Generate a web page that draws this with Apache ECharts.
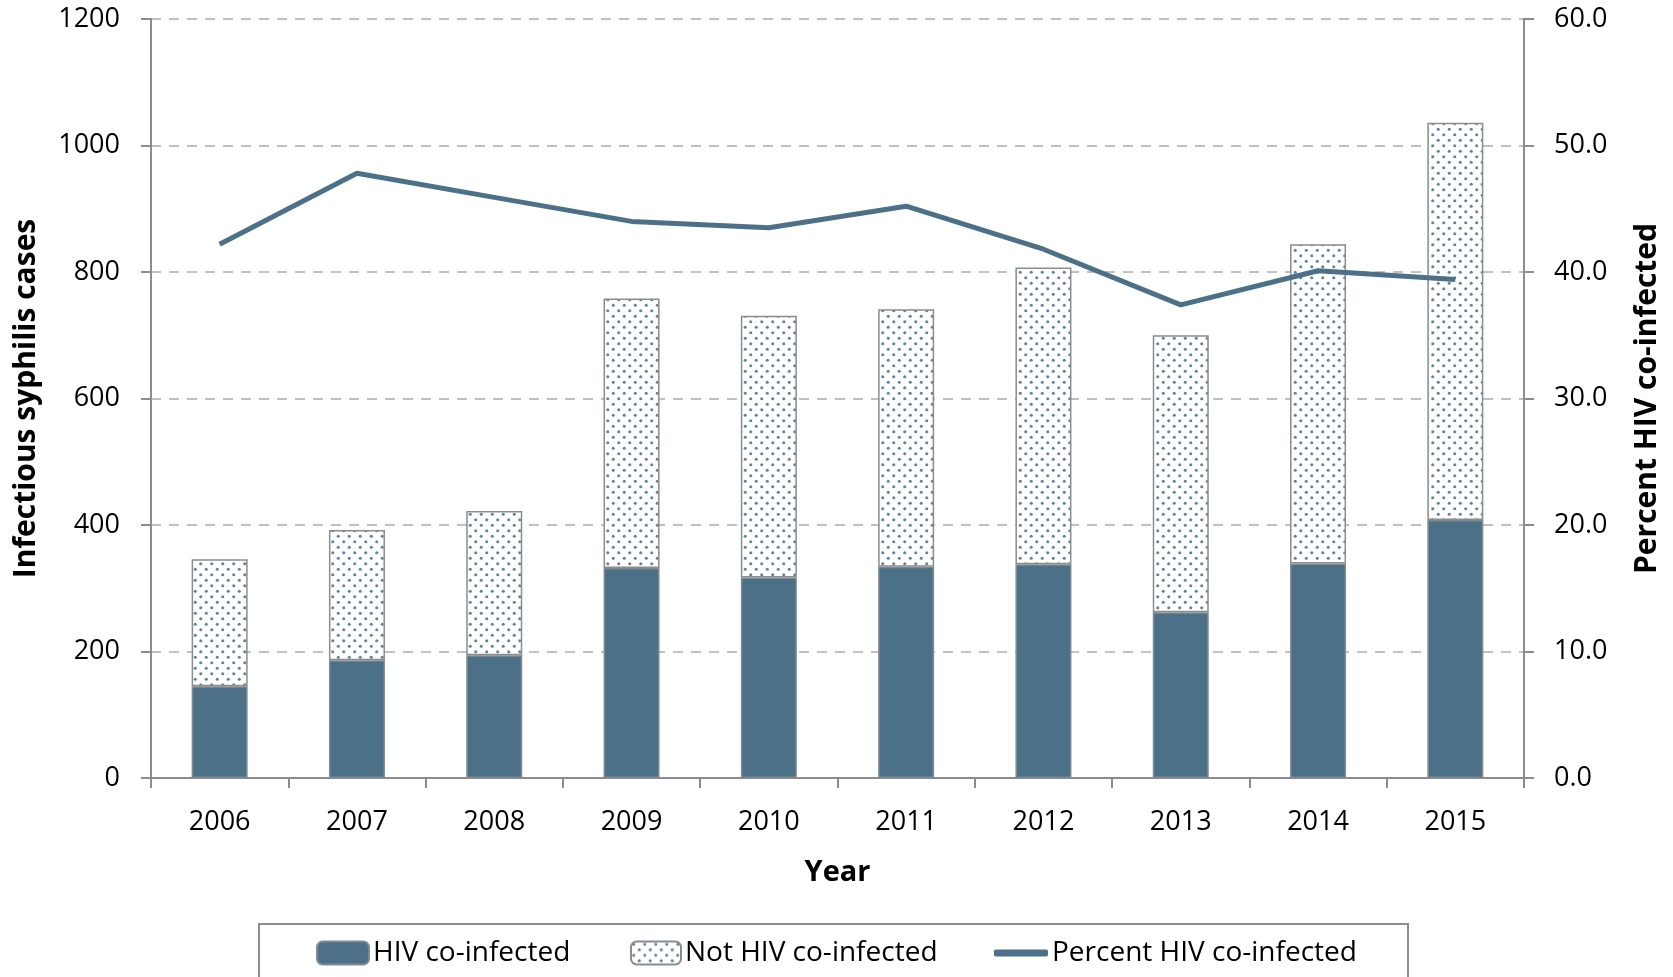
<!DOCTYPE html>
<html>
<head>
<meta charset="utf-8">
<script src="https://cdn.jsdelivr.net/npm/echarts@6/dist/echarts.min.js"></script>
<style>
  html, body { margin: 0; padding: 0; background: #fff; }
  #chart { width: 1673px; height: 977px; }
</style>
</head>
<body>
<div id="chart"></div>
<script>
// Infectious syphilis cases by HIV co-infection status, 2006-2015
const years = ['2006', '2007', '2008', '2009', '2010', '2011', '2012', '2013', '2014', '2015'];
const hivCoinfected = [145, 186, 194, 332, 317, 334, 338, 262, 339, 408];
const notHivCoinfected = [201, 206, 228, 426, 414, 407, 469, 438, 505, 628];
const percentHivCoinfected = [42.2, 47.8, 45.9, 44.0, 43.5, 45.2, 41.8, 37.4, 40.1, 39.4];

const FONT = '"Open Sans", "Liberation Sans", sans-serif';
const BLUE = '#4b7088';
const AXIS = '#8c8c8c';

// Dotted fill for the "Not HIV co-infected" bars
function dotPattern() {
  const c = document.createElement('canvas');
  c.width = 11; c.height = 11;
  const g = c.getContext('2d');
  g.fillStyle = '#ffffff';
  g.fillRect(0, 0, 11, 11);
  g.fillStyle = '#5f849c';
  [[2.75, 2.75], [8.25, 8.25]].forEach(function (p) {
    g.beginPath();
    g.arc(p[0], p[1], 1.55, 0, Math.PI * 2);
    g.fill();
  });
  return c;
}
const dots = { image: dotPattern(), repeat: 'repeat' };

const chart = echarts.init(document.getElementById('chart'), null, { renderer: 'canvas' });

const legendText = { fontFamily: FONT, fontSize: 28, color: '#000', padding: [0, 0, 0, -1] };
const titleText = { fontFamily: FONT, fontSize: 30, fontWeight: 'bold', color: '#000' };
const tickText = { fontFamily: FONT, fontSize: 27, color: '#000' };

chart.setOption({
  animation: false,
  backgroundColor: '#fff',
  grid: { left: 151, right: 149, top: 19, bottom: 199, containLabel: false, outerBoundsMode: 'none' },
  graphic: [{
    type: 'rect',
    shape: { x: 259, y: 924, width: 1149, height: 80 },
    style: { fill: 'none', stroke: AXIS, lineWidth: 2 },
    z: 0
  }],
  legend: [
    {
      left: 316, top: 939, itemWidth: 52, itemHeight: 23, itemGap: 0,
      data: ['HIV co-infected'], textStyle: legendText, padding: 0
    },
    {
      left: 630, top: 939, itemWidth: 50, itemHeight: 23, itemGap: 0,
      data: ['Not HIV co-infected'], textStyle: legendText, padding: 0
    },
    {
      left: 994, top: 939, itemWidth: 54, itemHeight: 7, itemGap: 0,
      data: [{ name: 'Percent HIV co-infected', icon: 'roundRect' }],
      itemStyle: { color: BLUE },
      textStyle: legendText, padding: 0
    }
  ],
  xAxis: {
    type: 'category',
    data: years,
    boundaryGap: true,
    name: 'Year',
    nameLocation: 'middle',
    nameGap: 80,
    nameTextStyle: { fontFamily: FONT, fontSize: 29, fontWeight: 'bold', color: '#000' },
    axisLine: { lineStyle: { color: AXIS, width: 2 } },
    axisTick: { show: true, length: 10, alignWithLabel: false, lineStyle: { color: AXIS, width: 2 } },
    axisLabel: Object.assign({ margin: 31 }, tickText)
  },
  yAxis: [
    {
      type: 'value',
      min: 0, max: 1200, interval: 200,
      name: 'Infectious syphilis cases',
      nameLocation: 'middle',
      nameGap: 110,
      nameRotate: 90,
      nameTextStyle: titleText,
      axisLine: { show: true, lineStyle: { color: AXIS, width: 2 } },
      axisTick: { show: true, length: 10, lineStyle: { color: AXIS, width: 2 } },
      axisLabel: Object.assign({ margin: 31, formatter: function (v) { return String(v); } }, tickText),
      splitLine: { show: true, lineStyle: { color: '#c0c0c0', width: 2, type: [10, 8] } }
    },
    {
      type: 'value',
      position: 'right',
      min: 0, max: 60, interval: 10,
      name: 'Percent HIV co-infected',
      nameLocation: 'middle',
      nameGap: 108,
      nameRotate: 90,
      nameTextStyle: titleText,
      axisLine: { show: true, lineStyle: { color: AXIS, width: 2 } },
      axisTick: { show: true, length: 10, lineStyle: { color: AXIS, width: 2 } },
      axisLabel: Object.assign({ margin: 30, formatter: function (v) { return v.toFixed(1); } }, tickText),
      splitLine: { show: false }
    }
  ],
  series: [
    {
      name: 'HIV co-infected',
      type: 'bar',
      stack: 'cases',
      barWidth: 56,
      data: hivCoinfected,
      itemStyle: { color: BLUE, borderColor: '#7f8a92', borderWidth: 1.5 },
      z: 2
    },
    {
      name: 'Not HIV co-infected',
      type: 'bar',
      stack: 'cases',
      barWidth: 56,
      data: notHivCoinfected,
      itemStyle: { color: dots, borderColor: '#8c8c8c', borderWidth: 1.5 },
      z: 2
    },
    {
      name: 'Percent HIV co-infected',
      type: 'line',
      yAxisIndex: 1,
      data: percentHivCoinfected,
      symbol: 'none',
      showSymbol: false,
      lineStyle: { color: BLUE, width: 5 },
      itemStyle: { color: BLUE },
      z: 5
    }
  ]
});
</script>
</body>
</html>
